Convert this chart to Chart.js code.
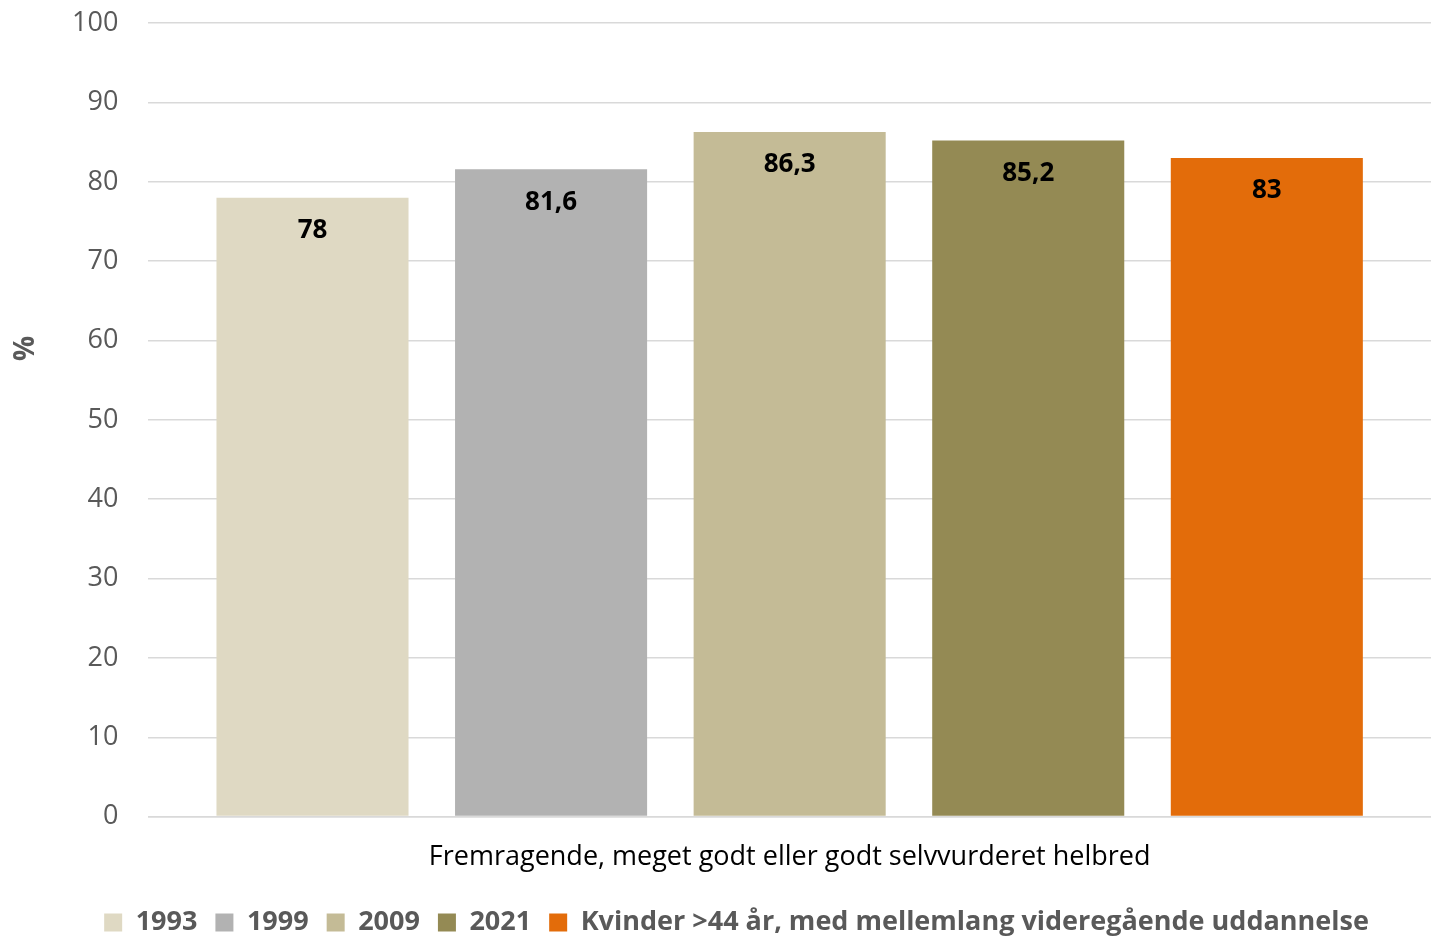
<!DOCTYPE html>
<html>
<head>
<meta charset="utf-8">
<script src="https://cdn.jsdelivr.net/npm/chart.js@4"></script>
<style>
  html, body { margin: 0; padding: 0; background: #fff; overflow: hidden; }
  #wrap { width: 1431px; height: 959px; margin-top: -23px; }
</style>
</head>
<body>
<div id="wrap"><canvas id="chart"></canvas></div>
<script>
// data
var categories = ['Fremragende, meget godt eller godt selvvurderet helbred'];
var seriesNames = ['1993', '1999', '2009', '2021', 'Kvinder >44 år, med mellemlang videregående uddannelse'];
var seriesValues = [[78], [81.6], [86.3], [85.2], [83]];
var seriesColors = ['#dfd9c3', '#b2b2b2', '#c4bb96', '#948a54', '#e36c0a'];
var yTicks = [0, 10, 20, 30, 40, 50, 60, 70, 80, 90, 100];

var FONT = "'Open Sans', 'Noto Sans', sans-serif";

var datasets = [];
for (var i = 0; i < seriesNames.length; i++) {
    datasets.push({
        label: seriesNames[i],
        data: seriesValues[i],
        backgroundColor: seriesColors[i],
        borderWidth: 0,
        categoryPercentage: 0.93,
        barPercentage: 0.805
    });
}

// value labels inside the top of each bar, plus the rotated "%" axis title
var barLabels = {
    id: 'barLabels',
    afterDatasetsDraw: function (chart) {
        var ctx = chart.ctx;
        ctx.save();
        ctx.font = 'bold 26px ' + FONT;
        ctx.fillStyle = '#000';
        ctx.textAlign = 'center';
        ctx.textBaseline = 'middle';
        chart.data.datasets.forEach(function (ds, di) {
            chart.getDatasetMeta(di).data.forEach(function (bar, j) {
                var txt = String(ds.data[j]).replace('.', ',');
                ctx.fillText(txt, bar.x, bar.y + 33);
            });
        });
        var a = chart.chartArea;
        ctx.translate(26, a.top + (a.bottom - a.top) * 0.41);
        ctx.rotate(-Math.PI / 2);
        ctx.fillStyle = '#595959';
        ctx.font = 'bold 28px ' + FONT;
        ctx.fillText('%', 0, 0);
        ctx.restore();
    }
};

new Chart(document.getElementById('chart'), {
    type: 'bar',
    data: { labels: categories, datasets: datasets },
    plugins: [barLabels],
    options: {
        responsive: true,
        maintainAspectRatio: false,
        animation: false,
        layout: { padding: { left: 42, right: 0, top: 0, bottom: -10 } },
        plugins: {
            tooltip: { enabled: false },
            legend: {
                position: 'bottom',
                labels: {
                    font: { family: FONT, size: 27, weight: 'bold' },
                    color: '#595959',
                    boxWidth: 18,
                    boxHeight: 18,
                    padding: 18
                }
            }
        },
        scales: {
            x: {
                grid: { display: false },
                border: { display: true, color: '#d9d9d9', width: 1.5 },
                ticks: {
                    font: { family: FONT, size: 27 },
                    color: '#000',
                    padding: 17
                }
            },
            y: {
                min: 0,
                max: 100,
                afterBuildTicks: function (axis) {
                    axis.ticks = yTicks.map(function (v) { return { value: v }; });
                },
                grid: { color: '#d9d9d9', lineWidth: 1.5, drawTicks: false },
                border: { display: false },
                ticks: {
                    font: { family: FONT, size: 27 },
                    color: '#595959',
                    padding: 30
                }
            }
        }
    }
});
</script>
</body>
</html>
